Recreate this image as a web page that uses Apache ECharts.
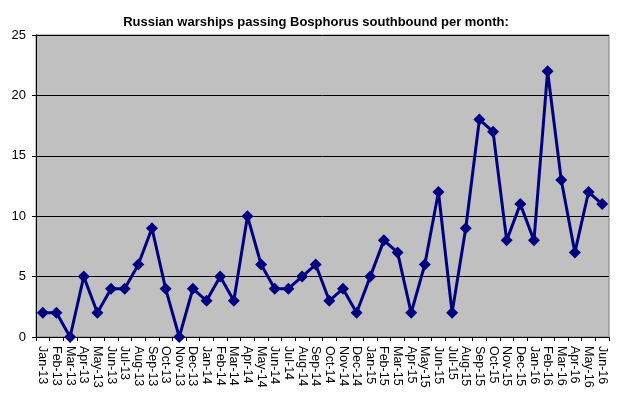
<!DOCTYPE html>
<html>
<head>
<meta charset="utf-8">
<script src="https://cdn.jsdelivr.net/npm/echarts@6/dist/echarts.min.js"></script>
<style>
  html, body { margin: 0; padding: 0; background: #fff; }
  #chart { width: 632px; height: 398px; }
</style>
</head>
<body>
<div id="chart"></div>
<script>
// months on the x axis
const months = [
  'Jan-13', 'Feb-13', 'Mar-13', 'Apr-13', 'May-13', 'Jun-13', 'Jul-13', 'Aug-13', 'Sep-13', 'Oct-13', 'Nov-13', 'Dec-13',
  'Jan-14', 'Feb-14', 'Mar-14', 'Apr-14', 'May-14', 'Jun-14', 'Jul-14', 'Aug-14', 'Sep-14', 'Oct-14', 'Nov-14', 'Dec-14',
  'Jan-15', 'Feb-15', 'Mar-15', 'Apr-15', 'May-15', 'Jun-15', 'Jul-15', 'Aug-15', 'Sep-15', 'Oct-15', 'Nov-15', 'Dec-15',
  'Jan-16', 'Feb-16', 'Mar-16', 'Apr-16', 'May-16', 'Jun-16'
]
// warships per month
const warships = [
  2, 2, 0, 5, 2, 4, 4, 6, 9, 4, 0, 4,
  3, 5, 3, 10, 6, 4, 4, 5, 6, 3, 4, 2,
  5, 8, 7, 2, 6, 12, 2, 9, 18, 17, 8, 11,
  8, 22, 13, 7, 12, 11
]
const yTicks = [0, 5, 10, 15, 20, 25]

let chart = echarts.init(document.getElementById('chart'))
chart.setOption({
  animation: false,
  title: {
    text: 'Russian warships passing Bosphorus southbound per month:',
    left: 'center',
    top: 11,
    textStyle: {
      fontFamily: 'Liberation Sans',
      fontSize: 13,
      fontWeight: 'bold',
      color: '#000'
    }
  },
  grid: {
    left: 36,
    right: 23,
    top: 35,
    bottom: 61,
    show: true,
    backgroundColor: '#c0c0c0',
    borderColor: '#808080',
    borderWidth: 1
  },
  xAxis: {
    type: 'category',
    data: months,
    boundaryGap: true,
    axisLine: { lineStyle: { color: '#000', width: 1 } },
    axisTick: { show: true, length: 4, lineStyle: { color: '#000' } },
    axisLabel: {
      interval: 0,
      rotate: -90,
      margin: 9,
      fontFamily: 'Liberation Sans',
      fontSize: 12.5,
      color: '#000'
    }
  },
  yAxis: {
    type: 'value',
    min: yTicks[0],
    max: yTicks[yTicks.length - 1],
    interval: 5,
    axisLine: { show: true, lineStyle: { color: '#000', width: 1 } },
    axisTick: { show: true, length: 4, lineStyle: { color: '#000' } },
    axisLabel: {
      margin: 10,
      fontFamily: 'Liberation Sans',
      fontSize: 13,
      color: '#000'
    },
    splitLine: { show: true, lineStyle: { color: '#000', width: 1 } }
  },
  series: [
    {
      name: 'Warships',
      type: 'line',
      data: warships,
      symbol: 'diamond',
      symbolSize: 12,
      lineStyle: { color: '#000080', width: 3 },
      itemStyle: { color: '#000080' }
    }
  ]
})
</script>
</body>
</html>
